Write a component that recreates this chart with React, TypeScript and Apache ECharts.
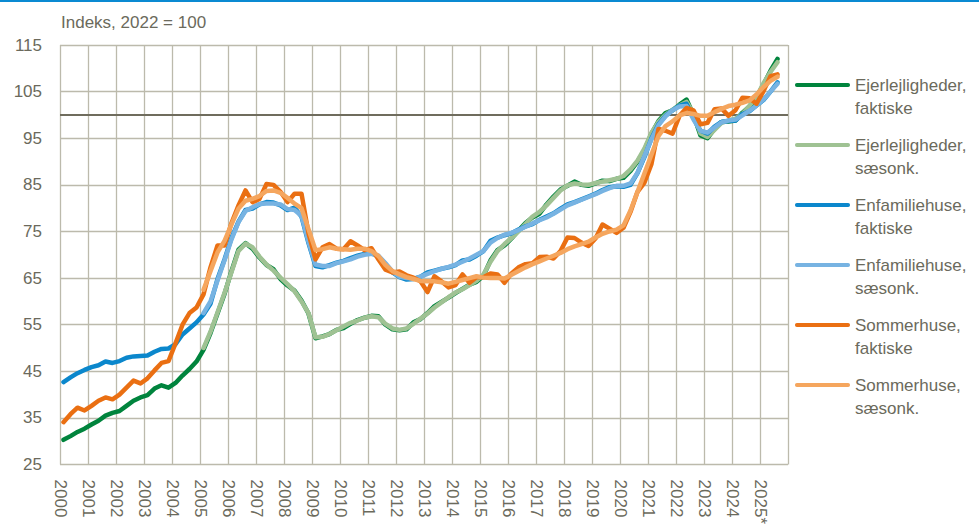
import React, { useEffect, useRef } from "react";
import * as echarts from "echarts";

// ---------- data ----------
const years = [2000, 2001, 2002, 2003, 2004, 2005, 2006, 2007, 2008, 2009, 2010, 2011, 2012,
  2013, 2014, 2015, 2016, 2017, 2018, 2019, 2020, 2021, 2022, 2023, 2024, 2025];
const yearLabels = years.map((y) => (y === 2025 ? "2025*" : String(y)));
const FIRST_YEAR = 2000;
const SAESONK_FIRST_YEAR = 2005;

const seriesNames = [
  "Ejerlejligheder, faktiske",
  "Ejerlejligheder, sæsonk.",
  "Enfamiliehuse, faktiske",
  "Enfamiliehuse, sæsonk.",
  "Sommerhuse, faktiske",
  "Sommerhuse, sæsonk.",
];

// quarterly index values, 2000 Q1 – 2025 Q3
const ejerFaktiske = [
  30.3, 31.1, 32.0, 32.7, 33.6, 34.4, 35.5, 36.1, 36.5, 37.6, 38.7, 39.4,
  39.9, 41.3, 42.0, 41.5, 42.5, 44.1, 45.5, 47.1, 49.6, 53.2, 57.4, 61.6,
  66.5, 71.1, 72.5, 71.3, 69.4, 67.8, 66.9, 64.8, 63.4, 62.3, 60.2, 57.4,
  52.1, 52.5, 53.0, 53.9, 54.3, 55.2, 56.0, 56.5, 56.9, 56.8, 55.0, 54.0,
  53.8, 54.0, 55.5, 56.2, 57.5, 59.0, 59.9, 60.8, 61.8, 62.7, 63.6, 64.2,
  65.5, 68.8, 71.0, 72.0, 73.5, 75.2, 76.8, 78.0, 78.8, 80.8, 82.5, 84.0,
  84.8, 85.7, 85.0, 84.8, 85.3, 85.9, 85.8, 86.3, 86.5, 88.0, 90.0, 92.5,
  96.0, 98.7, 100.4, 101.0, 102.2, 103.3, 100.0, 95.6, 95.0, 97.0, 98.5, 98.6,
  98.8, 100.5, 101.8, 103.8, 106.5, 109.5, 112.0,
];
// 2005 Q1 – 2025 Q3
const ejerSaesonk = [
  50.0, 53.5, 57.6, 61.8, 66.3, 70.8, 72.4, 71.6, 69.6, 67.9, 66.6, 65.1,
  63.7, 62.2, 60.0, 57.5, 52.3, 52.4, 53.0, 53.8, 54.6, 55.4, 55.9, 56.5,
  56.8, 56.6, 55.2, 54.2, 53.9, 54.2, 55.2, 56.3, 57.4, 58.7, 59.8, 60.9,
  61.9, 62.6, 63.5, 64.4, 65.8, 68.5, 70.8, 72.3, 73.6, 75.0, 76.6, 78.2,
  79.2, 80.6, 82.2, 83.8, 84.9, 85.3, 85.1, 85.0, 85.4, 85.7, 86.0, 86.3,
  86.9, 88.3, 90.2, 92.8, 96.2, 98.5, 100.0, 101.1, 102.0, 102.8, 100.3, 96.0,
  95.3, 96.8, 98.3, 98.8, 99.2, 100.2, 102.0, 103.9, 106.8, 109.2, 111.3,
];
const enfamFaktiske = [
  42.7, 43.7, 44.6, 45.3, 45.9, 46.3, 47.1, 46.8, 47.2, 47.9, 48.2, 48.3,
  48.4, 49.2, 49.8, 49.9, 50.8, 52.9, 54.2, 55.5, 57.2, 59.5, 64.8, 69.0,
  73.6, 77.1, 79.6, 79.9, 80.8, 81.3, 81.2, 80.6, 79.6, 80.1, 78.2, 72.5,
  67.6, 67.3, 67.8, 68.3, 68.7, 69.3, 69.8, 70.2, 70.4, 69.6, 68.0, 66.2,
  65.2, 64.7, 64.8, 65.3, 66.2, 66.6, 67.0, 67.3, 67.8, 68.8, 69.0, 69.8,
  70.8, 73.0, 73.7, 74.2, 74.6, 75.4, 76.1, 76.6, 77.5, 78.2, 78.9, 79.9,
  80.8, 81.3, 81.9, 82.5, 83.1, 83.9, 84.5, 84.7, 84.6, 85.0, 87.5, 91.0,
  95.0, 98.0, 99.8, 101.0, 102.0, 102.4, 99.3, 96.6, 96.0, 97.5, 98.5, 98.7,
  98.8, 100.2, 100.8, 102.0, 103.2, 105.0, 107.0,
];
const enfamSaesonk = [
  57.5, 60.0, 64.5, 68.8, 73.3, 77.0, 79.4, 80.2, 80.9, 81.0, 81.0, 80.8,
  79.8, 79.6, 78.4, 72.8, 67.9, 67.6, 67.6, 68.2, 68.6, 69.0, 69.6, 70.0,
  70.2, 69.8, 68.2, 66.4, 65.3, 65.0, 64.9, 65.3, 65.9, 66.5, 67.0, 67.4,
  67.9, 68.5, 69.2, 70.0, 70.8, 72.6, 73.6, 74.3, 74.7, 75.3, 76.0, 76.7,
  77.4, 78.0, 78.8, 79.7, 80.6, 81.2, 81.8, 82.4, 83.0, 83.7, 84.3, 84.8,
  84.8, 85.3, 87.6, 91.2, 94.8, 97.8, 99.7, 101.0, 101.8, 101.9, 99.0, 96.6,
  96.2, 97.3, 98.4, 98.8, 99.0, 99.9, 100.9, 102.0, 103.3, 105.0, 106.7,
];
const sommerFaktiske = [
  34.1, 35.8, 37.2, 36.6, 37.6, 38.7, 39.4, 39.0, 40.0, 41.5, 43.0, 42.4,
  43.5, 45.2, 46.8, 47.2, 51.0, 55.0, 57.5, 58.7, 61.5, 67.3, 72.0, 72.0,
  76.8, 80.6, 83.8, 81.3, 82.0, 85.2, 85.0, 83.5, 81.3, 83.1, 83.1, 74.6,
  69.0, 71.6, 72.3, 71.3, 71.2, 72.9, 72.0, 71.0, 71.4, 69.0, 66.8, 66.2,
  66.4, 65.6, 65.1, 64.3, 62.0, 65.4, 64.3, 63.0, 63.5, 65.8, 64.0, 65.2,
  65.2, 66.0, 65.8, 64.0, 66.0, 67.3, 68.0, 68.2, 69.5, 69.6, 69.2, 70.8,
  73.7, 73.6, 72.6, 71.9, 73.5, 76.5, 75.6, 74.7, 75.8, 79.2, 83.5, 85.5,
  89.5, 97.0, 96.6, 96.0, 99.8, 101.5, 101.0, 98.0, 98.3, 101.2, 101.4, 99.8,
  101.0, 103.7, 103.6, 102.4, 105.1, 108.3, 108.7,
];
const sommerSaesonk = [
  62.5, 66.5, 70.5, 73.0, 76.5, 79.9, 81.6, 82.0, 82.6, 83.7, 83.8, 83.3,
  82.2, 81.0, 80.0, 75.5, 71.0, 71.2, 71.6, 71.3, 71.2, 71.1, 71.3, 71.3,
  70.8, 69.7, 67.8, 66.5, 65.8, 65.2, 64.8, 64.4, 64.3, 64.3, 64.1, 63.8,
  64.2, 64.6, 65.0, 65.4, 65.1, 65.0, 65.0, 64.9, 65.7, 66.5, 67.3, 68.0,
  68.6, 69.2, 69.8, 70.4, 71.2, 71.8, 72.3, 72.8, 73.7, 74.5, 75.0, 75.4,
  76.3, 79.5, 83.5, 87.5, 91.5, 95.5, 97.6, 98.6, 99.9, 100.4, 100.2, 99.8,
  99.8, 100.6, 101.3, 101.9, 102.2, 102.6, 103.1, 104.4, 106.0, 107.3, 108.2,
];

const yMin = 25;
const yMax = 115;
const yStep = 10;
const referenceLevel = 100;

// ---------- styles ----------
const TEXT = "#6b6a5c";
const GRID = "#bcbaac";
const REF = "#6f6c5d";
const FONT = "'Liberation Sans', Arial, sans-serif";
const colors = ["#00843d", "#9fc293", "#0b87cc", "#77b3e2", "#ea6f12", "#f5a65e"];
// legend icon: a bar at the top of a 55x27 box (so it lines up with the first text line)
const LEGEND_ICON = "path://M2,0L53,0A2,2,0,0,1,53,4L2,4A2,2,0,0,1,2,0Z M0,27L0.01,27L0,27.01Z";

function toPoints(values: number[], startYear: number) {
  // each quarterly value placed at the middle of its quarter
  return values.map((v, i) => [startYear + i / 4 + 0.125, v]);
}

export default function App() {
  const ref = useRef<HTMLDivElement>(null);

  useEffect(() => {
    document.body.style.margin = "0";
    const chart = echarts.init(ref.current!, undefined, { renderer: "svg" });
    const dataSets = [
      toPoints(ejerFaktiske, FIRST_YEAR),
      toPoints(ejerSaesonk, SAESONK_FIRST_YEAR),
      toPoints(enfamFaktiske, FIRST_YEAR),
      toPoints(enfamSaesonk, SAESONK_FIRST_YEAR),
      toPoints(sommerFaktiske, FIRST_YEAR),
      toPoints(sommerSaesonk, SAESONK_FIRST_YEAR),
    ];
    const series: any[] = seriesNames.map((name, i) => ({
      name,
      type: "line",
      data: dataSets[i],
      showSymbol: false,
      symbol: "none",
      color: colors[i],
      itemStyle: { color: colors[i], borderWidth: 0 },
      lineStyle: { width: 4.5, color: colors[i], cap: "round", join: "round" },
      z: 2 + i,
    }));
    series[0].markLine = {
      silent: true,
      symbol: "none",
      z: 1,
      label: { show: false },
      lineStyle: { color: REF, width: 2, type: "solid" },
      data: [{ yAxis: referenceLevel }],
    };

    chart.setOption({
      animation: false,
      textStyle: { fontFamily: FONT },
      title: {
        text: "Indeks, 2022 = 100",
        left: 61,
        top: 14,
        padding: 0,
        textStyle: { fontSize: 17, fontWeight: "normal", color: TEXT, fontFamily: FONT },
      },
      graphic: [
        { type: "rect", left: 0, top: 0, shape: { width: 979, height: 2 }, style: { fill: "#0a8ad2" } },
      ],
      legend: {
        orient: "vertical",
        left: 795,
        top: 73.5,
        padding: 0,
        itemWidth: 55,
        itemHeight: 27,
        itemGap: 14,
        icon: LEGEND_ICON,
        symbolKeepAspect: false,
        itemStyle: { borderWidth: 0 },
        data: seriesNames,
        formatter: (name: string) => name.replace(", ", ",\n"),
        textStyle: { fontSize: 17, color: TEXT, lineHeight: 23, fontFamily: FONT },
      },
      grid: { left: 60, right: 191, top: 45, bottom: 58 },
      xAxis: {
        type: "value",
        min: FIRST_YEAR,
        max: years[years.length - 1] + 1,
        interval: 1,
        axisLine: { show: false },
        axisTick: { show: false },
        splitLine: { show: true, lineStyle: { color: GRID, width: 1.3 } },
        axisLabel: {
          rotate: -90,
          margin: 15,
          fontSize: 17,
          color: TEXT,
          fontFamily: FONT,
          formatter: (v: number) => {
            const idx = years.indexOf(Math.round(v));
            return idx >= 0 ? yearLabels[idx] : "";
          },
        },
      },
      yAxis: {
        type: "value",
        min: yMin,
        max: yMax,
        interval: yStep,
        axisLine: { show: false },
        axisTick: { show: false },
        splitLine: { show: true, lineStyle: { color: GRID, width: 1.3 } },
        axisLabel: { fontSize: 17, color: TEXT, margin: 18, fontFamily: FONT },
      },
      series,
    });
    return () => chart.dispose();
  }, []);

  return (
    <div
      ref={ref}
      style={{ position: "absolute", left: 0, top: 0, width: 979, height: 527, background: "#fff" }}
    />
  );
}
